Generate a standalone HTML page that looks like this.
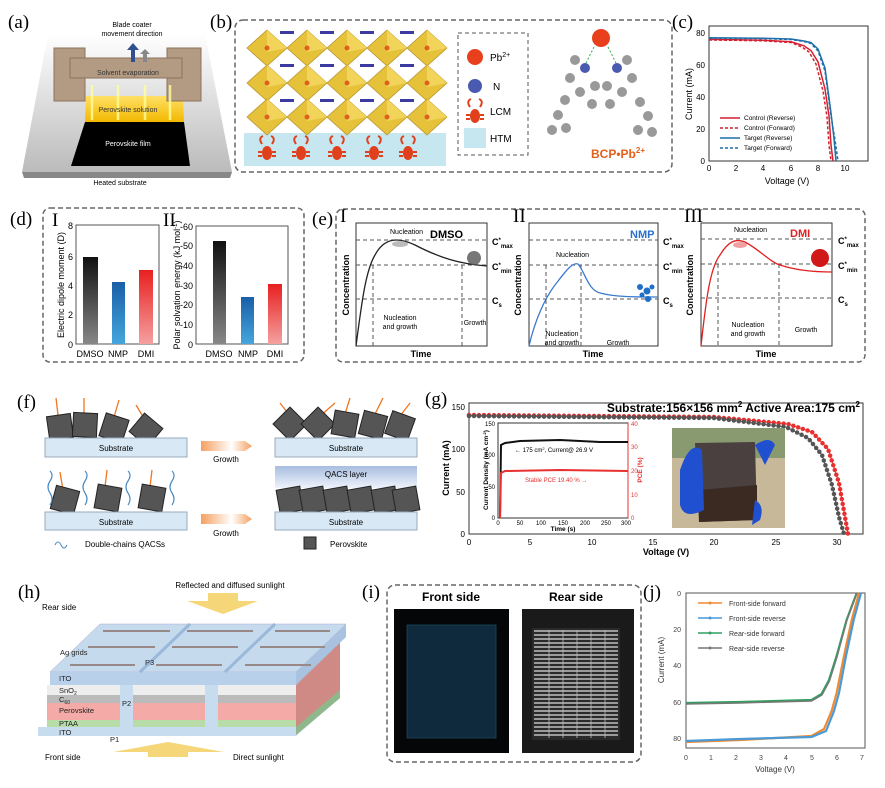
<!DOCTYPE html>
<html><head><meta charset="utf-8"><style>
html,body{margin:0;padding:0;background:#fff}
svg{display:block;font-family:"Liberation Sans",Arial,sans-serif}
.pl{font-family:"Liberation Serif",serif;font-size:19px}
.t{font-size:8px}
.d{stroke:#666;stroke-width:1.5;stroke-dasharray:5 3;fill:none}
.g{stroke:#555;stroke-width:1;stroke-dasharray:4 3;fill:none}
</style></head><body>
<svg width="885" height="788" viewBox="0 0 885 788" xmlns="http://www.w3.org/2000/svg">
<defs>
<linearGradient id="gk" x1="0" y1="0" x2="0" y2="1"><stop offset="0" stop-color="#111"/><stop offset="1" stop-color="#888"/></linearGradient>
<linearGradient id="gb" x1="0" y1="0" x2="0" y2="1"><stop offset="0" stop-color="#1a5fa8"/><stop offset="1" stop-color="#45a6dc"/></linearGradient>
<linearGradient id="gr" x1="0" y1="0" x2="0" y2="1"><stop offset="0" stop-color="#e82020"/><stop offset="1" stop-color="#f5a0a0"/></linearGradient>
<linearGradient id="gs" x1="0" y1="0" x2="0" y2="1"><stop offset="0" stop-color="#fff"/><stop offset="1" stop-color="#bbb"/></linearGradient>
<linearGradient id="gy" x1="0" y1="0" x2="0" y2="1"><stop offset="0" stop-color="#ffe066"/><stop offset="1" stop-color="#f2b800"/></linearGradient>
<linearGradient id="ga" x1="0" y1="0" x2="1" y2="0"><stop offset="0" stop-color="#f5a060"/><stop offset="0.6" stop-color="#fff"/><stop offset="1" stop-color="#f5a060"/></linearGradient>
<linearGradient id="gq" x1="0" y1="0" x2="0" y2="1"><stop offset="0" stop-color="#a8bde0"/><stop offset="1" stop-color="#eef3fb"/></linearGradient>
<g id="oct"><polygon points="0,-18 20,0 0,18 -20,0" fill="#e6c23a" stroke="#b8962a" stroke-width="0.8"/><polygon points="0,-18 20,0 0,4" fill="#f3d45a"/><circle r="2.5" fill="#e06020"/></g>
<g id="crab"><ellipse cx="0" cy="3" rx="5" ry="7" fill="#e0401c"/><path d="M-5,-6 q-4,-6 1,-8 M5,-6 q4,-6 -1,-8 M-5,2 h-4 M5,2 h4 M-5,6 h-4 M5,6 h4" stroke="#e0401c" stroke-width="2" fill="none"/></g>
<g id="sq"><rect x="-12" y="-12" width="24" height="24" fill="#555" stroke="#222"/></g>
</defs>

<!-- (a) -->
<text x="8" y="28" class="pl">(a)</text>
<polygon points="48,34 205,34 232,172 22,172" fill="url(#gs)"/>
<polygon points="22,172 232,172 230,178 24,178" fill="#888"/>
<text x="132" y="27" text-anchor="middle" font-size="7">Blade coater</text>
<text x="132" y="36" text-anchor="middle" font-size="7">movement direction</text>
<polygon points="85,122 184,122 190,166 71,166" fill="#000"/>
<polygon points="86,96 183,96 184,122 85,122" fill="url(#gy)"/>
<rect x="54" y="48" width="31" height="53" fill="#b39a82" stroke="#8c735c"/>
<rect x="167" y="48" width="34" height="53" fill="#b39a82" stroke="#8c735c"/>
<rect x="70" y="58" width="112" height="20" fill="#b39a82" stroke="#8c735c"/>
<path d="M131,62 v-12 h-4 l6,-7 l6,7 h-4 v12z" fill="#2f4f8f"/>
<path d="M143,62 v-8 h-3 l5,-5 l5,5 h-3 v8z" fill="#888"/>
<g stroke="#ffff99" stroke-width="2.5" opacity="0.8"><line x1="92" y1="120" x2="92" y2="85"/><line x1="118" y1="120" x2="118" y2="85"/><line x1="145" y1="120" x2="145" y2="85"/><line x1="170" y1="120" x2="170" y2="85"/></g>
<text x="128" y="75" text-anchor="middle" font-size="7" fill="#333">Solvent evaporation</text>
<text x="128" y="112" text-anchor="middle" font-size="7" fill="#333">Perovskite solution</text>
<text x="128" y="146" text-anchor="middle" font-size="7" fill="#fff">Perovskite film</text>
<text x="120" y="185" text-anchor="middle" font-size="7">Heated substrate</text>

<!-- (b) -->
<text x="210" y="28" class="pl">(b)</text>
<rect x="235" y="20" width="437" height="152" rx="8" class="d"/>
<rect x="244" y="133" width="202" height="33" fill="#c6e6f0"/>
<g>
<use href="#oct" x="267" y="48"/><use href="#oct" x="307" y="48"/><use href="#oct" x="347" y="48"/><use href="#oct" x="387" y="48"/><use href="#oct" x="427" y="48"/>
<use href="#oct" x="267" y="83"/><use href="#oct" x="307" y="83"/><use href="#oct" x="347" y="83"/><use href="#oct" x="387" y="83"/><use href="#oct" x="427" y="83"/>
<use href="#oct" x="267" y="117"/><use href="#oct" x="307" y="117"/><use href="#oct" x="347" y="117"/><use href="#oct" x="387" y="117"/><use href="#oct" x="427" y="117"/>
</g>
<g fill="#3a3aa0"><rect x="280" y="64" width="14" height="3"/><rect x="320" y="64" width="14" height="3"/><rect x="360" y="64" width="14" height="3"/><rect x="400" y="64" width="14" height="3"/>
<rect x="280" y="99" width="14" height="3"/><rect x="320" y="99" width="14" height="3"/><rect x="360" y="99" width="14" height="3"/><rect x="400" y="99" width="14" height="3"/>
<rect x="280" y="31" width="14" height="3"/><rect x="320" y="31" width="14" height="3"/><rect x="360" y="31" width="14" height="3"/><rect x="400" y="31" width="14" height="3"/></g>
<use href="#crab" x="267" y="150"/><use href="#crab" x="301" y="150"/><use href="#crab" x="337" y="150"/><use href="#crab" x="374" y="150"/><use href="#crab" x="408" y="150"/>
<rect x="458" y="33" width="70" height="122" class="g"/>
<circle cx="475" cy="57" r="8" fill="#e8401c"/><text x="490" y="61" font-size="10">Pb<tspan font-size="7" dy="-4">2+</tspan></text>
<circle cx="475" cy="86" r="7" fill="#4a5ab0"/><text x="493" y="90" font-size="10">N</text>
<use href="#crab" x="475" y="113"/><text x="490" y="115" font-size="10">LCM</text>
<rect x="464" y="128" width="22" height="20" fill="#c6e6f0"/><text x="490" y="142" font-size="10">HTM</text>
<circle cx="601" cy="38" r="9" fill="#e8401c"/>
<path d="M594,47 l-8,16 M608,47 l8,16" stroke="#2db04a" stroke-dasharray="2 2"/>
<g fill="#999"><circle cx="585" cy="68" r="5" fill="#4a5ab0"/><circle cx="617" cy="68" r="5" fill="#4a5ab0"/><circle cx="575" cy="60" r="5"/><circle cx="627" cy="60" r="5"/><circle cx="570" cy="78" r="5"/><circle cx="632" cy="78" r="5"/><circle cx="580" cy="92" r="5"/><circle cx="622" cy="92" r="5"/><circle cx="595" cy="86" r="5"/><circle cx="607" cy="86" r="5"/><circle cx="592" cy="104" r="5"/><circle cx="610" cy="104" r="5"/><circle cx="565" cy="100" r="5"/><circle cx="558" cy="115" r="5"/><circle cx="566" cy="128" r="5"/><circle cx="640" cy="102" r="5"/><circle cx="648" cy="116" r="5"/><circle cx="638" cy="130" r="5"/><circle cx="552" cy="130" r="5"/><circle cx="652" cy="132" r="5"/></g>
<text x="618" y="158" text-anchor="middle" font-size="12" font-weight="bold" fill="#e0601c">BCP•Pb<tspan font-size="8" dy="-5">2+</tspan></text>

<!-- (c) -->
<text x="672" y="28" class="pl">(c)</text>
<rect x="709" y="26" width="159" height="135" fill="none" stroke="#333"/>
<g class="t" text-anchor="end"><text x="705" y="164">0</text><text x="705" y="132">20</text><text x="705" y="100">40</text><text x="705" y="68">60</text><text x="705" y="36">80</text></g>
<g class="t" text-anchor="middle"><text x="709" y="171">0</text><text x="736" y="171">2</text><text x="763" y="171">4</text><text x="791" y="171">6</text><text x="818" y="171">8</text><text x="845" y="171">10</text></g>
<text x="787" y="184" text-anchor="middle" font-size="9">Voltage (V)</text>
<text transform="translate(692,94) rotate(-90)" text-anchor="middle" font-size="9">Current (mA)</text>
<path d="M709,39.4 L736,39.7 763,40.2 791,41.8 804,45.8 811,50.6 818,61.8 825,89 829,116 831,145 833,161" fill="none" stroke="#d42030" stroke-width="1.5"/>
<path d="M709,40 L736,40.3 763,40.8 791,42.5 802,47 809,52 816,64 823,91 827,117 829,145 831,161" fill="none" stroke="#d42030" stroke-width="1.5" stroke-dasharray="3 2"/>
<path d="M709,37.8 L763,38.2 791,39 804,41 811,42.6 818,49 825,68 831,113 834,138.6 836,161" fill="none" stroke="#1f6fa8" stroke-width="1.5"/>
<path d="M709,38.2 L763,38.6 791,39.5 804,41.5 811,43.5 818,51 825,71 831,116 835,140 838,161" fill="none" stroke="#1f6fa8" stroke-width="1.5" stroke-dasharray="3 2"/>
<g font-size="6.5"><line x1="720" y1="118" x2="740" y2="118" stroke="#d42030" stroke-width="1.5"/><text x="744" y="120">Control (Reverse)</text>
<line x1="720" y1="128" x2="740" y2="128" stroke="#d42030" stroke-width="1.5" stroke-dasharray="3 2"/><text x="744" y="130">Control (Forward)</text>
<line x1="720" y1="138" x2="740" y2="138" stroke="#1f6fa8" stroke-width="1.5"/><text x="744" y="140">Target (Reverse)</text>
<line x1="720" y1="148" x2="740" y2="148" stroke="#1f6fa8" stroke-width="1.5" stroke-dasharray="3 2"/><text x="744" y="150">Target (Forward)</text></g>

<!-- (d) -->
<text x="10" y="225" class="pl">(d)</text>
<rect x="43" y="208" width="261" height="154" rx="7" class="d"/>
<text x="52" y="226" class="pl" font-size="14">I</text>
<text x="163" y="226" class="pl" font-size="14">II</text>
<rect x="76" y="225" width="83" height="119" fill="none" stroke="#555"/>
<rect x="83" y="257" width="15" height="87" fill="url(#gk)"/>
<rect x="112" y="282" width="13" height="62" fill="url(#gb)"/>
<rect x="139" y="270" width="14" height="74" fill="url(#gr)"/>
<g font-size="9" text-anchor="end"><text x="73" y="348">0</text><text x="73" y="318">2</text><text x="73" y="289">4</text><text x="73" y="260">6</text><text x="73" y="229">8</text></g>
<text transform="translate(64,285) rotate(-90)" text-anchor="middle" font-size="9">Electric dipole moment (D)</text>
<g font-size="9" text-anchor="middle"><text x="90" y="357">DMSO</text><text x="118" y="357">NMP</text><text x="146" y="357">DMI</text></g>
<rect x="196" y="226" width="92" height="118" fill="none" stroke="#555"/>
<rect x="213" y="241" width="13" height="103" fill="url(#gk)"/>
<rect x="241" y="297" width="13" height="47" fill="url(#gb)"/>
<rect x="268" y="284" width="14" height="60" fill="url(#gr)"/>
<g font-size="9" text-anchor="end"><text x="193" y="348">0</text><text x="193" y="328">-10</text><text x="193" y="308">-20</text><text x="193" y="289">-30</text><text x="193" y="269">-40</text><text x="193" y="249">-50</text><text x="193" y="230">-60</text></g>
<text transform="translate(180,285) rotate(-90)" text-anchor="middle" font-size="9">Polar solvation energy (kJ mol<tspan font-size="6" dy="-3">-1</tspan><tspan dy="3">)</tspan></text>
<g font-size="9" text-anchor="middle"><text x="219" y="357">DMSO</text><text x="248" y="357">NMP</text><text x="275" y="357">DMI</text></g>

<!-- (e) -->
<text x="312" y="225" class="pl">(e)</text>
<rect x="336" y="209" width="529" height="153" rx="7" class="d"/>
<g class="pl" font-size="12"><text x="340" y="222">I</text><text x="513" y="222">II</text><text x="684" y="222">III</text></g>
<rect x="356" y="223" width="131" height="123" fill="none" stroke="#333"/>
<g class="g"><line x1="356" y1="240" x2="487" y2="240"/><line x1="356" y1="265" x2="487" y2="265"/><line x1="356" y1="299" x2="487" y2="299"/><line x1="373" y1="265" x2="373" y2="346"/><line x1="462" y1="265" x2="462" y2="346"/></g>
<path d="M356,346 C362,300 366,270 375,255 C385,236 400,238 415,245 C440,258 460,264 487,266" fill="none" stroke="#222" stroke-width="1.3"/>
<ellipse cx="400" cy="244" rx="8" ry="3" fill="#bbb"/>
<circle cx="474" cy="258" r="7" fill="#555" opacity="0.8"/>
<text x="390" y="234" font-size="7">Nucleation</text>
<text x="430" y="238" font-size="11" font-weight="bold">DMSO</text>
<text x="400" y="320" font-size="7" text-anchor="middle">Nucleation</text><text x="400" y="329" font-size="7" text-anchor="middle">and growth</text>
<text x="475" y="325" font-size="7" text-anchor="middle">Growth</text>
<g font-size="9" font-weight="bold"><text x="492" y="245">C<tspan dy="-3" font-size="6">*</tspan><tspan dy="6" font-size="6">max</tspan></text><text x="492" y="270">C<tspan dy="-3" font-size="6">*</tspan><tspan dy="6" font-size="6">min</tspan></text><text x="492" y="304">C<tspan dy="3" font-size="6">s</tspan></text></g>
<text transform="translate(349,285) rotate(-90)" text-anchor="middle" font-size="9" font-weight="bold">Concentration</text>
<text x="421" y="357" text-anchor="middle" font-size="9" font-weight="bold">Time</text>
<rect x="529" y="223" width="129" height="123" fill="none" stroke="#333"/>
<g class="g"><line x1="529" y1="240" x2="658" y2="240"/><line x1="529" y1="265" x2="658" y2="265"/><line x1="529" y1="299" x2="658" y2="299"/><line x1="546" y1="265" x2="546" y2="346"/><line x1="581" y1="265" x2="581" y2="346"/></g>
<path d="M529,346 C535,320 545,298 555,285 C565,272 572,262 578,264 C585,272 588,290 600,293 C615,297 635,297 658,297" fill="none" stroke="#3c7ad0" stroke-width="1.3"/>
<g fill="#1f6fc8"><circle cx="640" cy="287" r="3"/><circle cx="647" cy="291" r="3.5"/><circle cx="642" cy="295" r="2.5"/><circle cx="652" cy="287" r="2.5"/><circle cx="648" cy="299" r="3"/></g>
<text x="556" y="257" font-size="7">Nucleation</text>
<text x="630" y="238" font-size="11" font-weight="bold" fill="#2a6fd0">NMP</text>
<text x="562" y="336" font-size="7" text-anchor="middle">Nucleation</text><text x="562" y="345" font-size="7" text-anchor="middle">and growth</text>
<text x="618" y="345" font-size="7" text-anchor="middle">Growth</text>
<g font-size="9" font-weight="bold"><text x="663" y="245">C<tspan dy="-3" font-size="6">*</tspan><tspan dy="6" font-size="6">max</tspan></text><text x="663" y="270">C<tspan dy="-3" font-size="6">*</tspan><tspan dy="6" font-size="6">min</tspan></text><text x="663" y="304">C<tspan dy="3" font-size="6">s</tspan></text></g>
<text transform="translate(521,285) rotate(-90)" text-anchor="middle" font-size="9" font-weight="bold">Concentration</text>
<text x="593" y="357" text-anchor="middle" font-size="9" font-weight="bold">Time</text>
<rect x="701" y="223" width="131" height="123" fill="none" stroke="#333"/>
<g class="g"><line x1="701" y1="239" x2="832" y2="239"/><line x1="701" y1="264" x2="832" y2="264"/><line x1="701" y1="298" x2="832" y2="298"/><line x1="718" y1="264" x2="718" y2="346"/><line x1="779" y1="264" x2="779" y2="346"/></g>
<path d="M701,346 C706,300 710,268 720,255 C728,242 735,238 745,242 C760,250 770,262 780,265 C795,270 815,272 832,272" fill="none" stroke="#e02020" stroke-width="1.3"/>
<ellipse cx="740" cy="245" rx="7" ry="3" fill="#f0a0a0"/>
<circle cx="820" cy="258" r="9" fill="#d01818"/>
<text x="734" y="232" font-size="7">Nucleation</text>
<text x="790" y="237" font-size="11" font-weight="bold" fill="#e02020">DMI</text>
<text x="748" y="327" font-size="7" text-anchor="middle">Nucleation</text><text x="748" y="336" font-size="7" text-anchor="middle">and growth</text>
<text x="806" y="332" font-size="7" text-anchor="middle">Growth</text>
<g font-size="9" font-weight="bold"><text x="838" y="244">C<tspan dy="-3" font-size="6">*</tspan><tspan dy="6" font-size="6">max</tspan></text><text x="838" y="269">C<tspan dy="-3" font-size="6">*</tspan><tspan dy="6" font-size="6">min</tspan></text><text x="838" y="303">C<tspan dy="3" font-size="6">s</tspan></text></g>
<text transform="translate(693,285) rotate(-90)" text-anchor="middle" font-size="9" font-weight="bold">Concentration</text>
<text x="766" y="357" text-anchor="middle" font-size="9" font-weight="bold">Time</text>

<!-- (f) -->
<text x="17" y="408" class="pl">(f)</text>
<g stroke="#ee7722" stroke-width="1.3"><line x1="58" y1="415" x2="56" y2="398"/><line x1="84" y1="413" x2="84" y2="398"/><line x1="114" y1="417" x2="119" y2="400"/><line x1="145" y1="420" x2="136" y2="405"/>
<line x1="290" y1="416" x2="280" y2="403"/><line x1="320" y1="416" x2="335" y2="403"/><line x1="345" y1="414" x2="350" y2="398"/><line x1="375" y1="414" x2="383" y2="398"/><line x1="400" y1="416" x2="410" y2="403"/>
<line x1="63" y1="490" x2="60" y2="472"/><line x1="105" y1="487" x2="107" y2="470"/><line x1="150" y1="487" x2="152" y2="470"/>
<line x1="292" y1="498" x2="290" y2="480"/><line x1="313" y1="498" x2="313" y2="480"/><line x1="337" y1="498" x2="337" y2="480"/><line x1="361" y1="498" x2="361" y2="480"/><line x1="385" y1="498" x2="385" y2="480"/><line x1="408" y1="498" x2="408" y2="480"/></g>
<g transform="translate(60,427) rotate(-8)"><use href="#sq"/></g><g transform="translate(85,425) rotate(3)"><use href="#sq"/></g>
<g transform="translate(114,428) rotate(18)"><use href="#sq"/></g><g transform="translate(146,430) rotate(40)"><use href="#sq"/></g>
<g transform="translate(290,424) rotate(45)"><use href="#sq"/></g><g transform="translate(318,424) rotate(45)"><use href="#sq"/></g><g transform="translate(345,424) rotate(10)"><use href="#sq"/></g><g transform="translate(373,425) rotate(15)"><use href="#sq"/></g><g transform="translate(400,426) rotate(20)"><use href="#sq"/></g>
<g transform="translate(65,500) rotate(15)"><use href="#sq"/></g><g transform="translate(108,498) rotate(10)"><use href="#sq"/></g><g transform="translate(152,498) rotate(10)"><use href="#sq"/></g>
<g stroke="#4a8ac0" stroke-width="1.2" fill="none"><path d="M50,505 q4,-6 0,-12 q-4,-6 0,-12 q4,-6 0,-10"/><path d="M85,505 q4,-6 0,-12 q-4,-6 0,-12 q4,-6 0,-10"/><path d="M128,505 q4,-6 0,-12 q-4,-6 0,-12 q4,-6 0,-10"/><path d="M172,505 q4,-6 0,-12 q-4,-6 0,-12 q4,-6 0,-10"/></g>
<rect x="45" y="438" width="142" height="19" fill="#d8e8f4" stroke="#9ab"/><text x="116" y="451" text-anchor="middle" font-size="8">Substrate</text>
<rect x="45" y="512" width="142" height="18" fill="#d8e8f4" stroke="#9ab"/><text x="116" y="525" text-anchor="middle" font-size="8">Substrate</text>
<rect x="275" y="466" width="142" height="22" fill="url(#gq)"/><text x="346" y="477" text-anchor="middle" font-size="8">QACS layer</text>
<g transform="translate(290,500) rotate(-10)"><use href="#sq"/></g><g transform="translate(313,500) rotate(-10)"><use href="#sq"/></g><g transform="translate(337,500) rotate(-10)"><use href="#sq"/></g><g transform="translate(361,500) rotate(-10)"><use href="#sq"/></g><g transform="translate(385,500) rotate(-10)"><use href="#sq"/></g><g transform="translate(406,500) rotate(-10)"><use href="#sq"/></g>
<rect x="275" y="438" width="142" height="19" fill="#d8e8f4" stroke="#9ab"/><text x="346" y="451" text-anchor="middle" font-size="8">Substrate</text>
<rect x="275" y="512" width="142" height="18" fill="#d8e8f4" stroke="#9ab"/><text x="346" y="525" text-anchor="middle" font-size="8">Substrate</text>
<polygon points="201,441 245,441 252,446 245,451 201,451" fill="url(#ga)"/><text x="226" y="462" text-anchor="middle" font-size="8">Growth</text>
<polygon points="201,514 245,514 252,519 245,524 201,524" fill="url(#ga)"/><text x="226" y="536" text-anchor="middle" font-size="8">Growth</text>
<path d="M55,545 q3,-6 6,0 q3,6 6,0" stroke="#4a8ac0" fill="none"/><text x="85" y="547" font-size="8">Double-chains QACSs</text>
<rect x="304" y="537" width="12" height="12" fill="#555" stroke="#222"/><text x="330" y="547" font-size="8">Perovskite</text>

<!-- (g) -->
<text x="425" y="405" class="pl">(g)</text>
<rect x="469" y="403" width="394" height="131" fill="none" stroke="#333"/>
<g class="t" text-anchor="end"><text x="465" y="537">0</text><text x="465" y="495">50</text><text x="465" y="452">100</text><text x="465" y="410">150</text></g>
<g class="t" text-anchor="middle"><text x="469" y="545">0</text><text x="530" y="545">5</text><text x="592" y="545">10</text><text x="653" y="545">15</text><text x="714" y="545">20</text><text x="776" y="545">25</text><text x="837" y="545">30</text></g>
<text x="666" y="555" text-anchor="middle" font-size="9" font-weight="bold">Voltage (V)</text>
<text transform="translate(449,468) rotate(-90)" text-anchor="middle" font-size="9" font-weight="bold">Current (mA)</text>
<text x="860" y="412" text-anchor="end" font-size="12" font-weight="bold">Substrate:156×156 mm<tspan font-size="8" dy="-5">2</tspan><tspan dy="5"> Active Area:175 cm</tspan><tspan font-size="8" dy="-5">2</tspan></text>
<path d="M469,415 L714,417 788,424 812,432 828,449 839,483 845,517 848,534" fill="none" stroke="#e83030" stroke-width="4.5" stroke-linecap="round" stroke-dasharray="0 5"/>
<path d="M469,415 L714,417 788,424 812,432 828,449 839,483 845,517 848,534" fill="none" stroke="#e83030"/>
<path d="M469,416 L714,418 786,427 808,438 822,455 832,485 839,517 844,534" fill="none" stroke="#555" stroke-width="4.5" stroke-linecap="round" stroke-dasharray="0 5"/>
<path d="M469,416 L714,418 786,427 808,438 822,455 832,485 839,517 844,534" fill="none" stroke="#555"/>
<rect x="498" y="423" width="130" height="95" fill="#fff" stroke="#333"/>
<line x1="628" y1="423" x2="628" y2="518" stroke="#e83030"/>
<path d="M500,518 L501,445 505,443 520,441 560,440 600,442 628,442" fill="none" stroke="#111" stroke-width="2"/>
<path d="M500,518 L501,473 505,471 560,470 628,471" fill="none" stroke="#e83030" stroke-width="2"/>
<text x="515" y="452" font-size="6">← 175 cm<tspan font-size="4" dy="-2">2</tspan><tspan dy="2">, Current@ 26.9 V</tspan></text>
<text x="525" y="482" font-size="6" fill="#e83030">Stable PCE 19.40 %  →</text>
<g font-size="6" text-anchor="end"><text x="495" y="520">0</text><text x="495" y="489">50</text><text x="495" y="457">100</text><text x="495" y="426">150</text></g>
<g font-size="6" fill="#e83030"><text x="631" y="520">0</text><text x="631" y="497">10</text><text x="631" y="473">20</text><text x="631" y="449">30</text><text x="631" y="426">40</text></g>
<g font-size="6" text-anchor="middle"><text x="498" y="525">0</text><text x="520" y="525">50</text><text x="541" y="525">100</text><text x="563" y="525">150</text><text x="585" y="525">200</text><text x="606" y="525">250</text><text x="626" y="525">300</text></g>
<text x="563" y="531" text-anchor="middle" font-size="6.5" font-weight="bold">Time (s)</text>
<text transform="translate(488,470) rotate(-90)" text-anchor="middle" font-size="6.5" font-weight="bold">Current Density (mA cm<tspan font-size="4" dy="-2">-2</tspan><tspan dy="2">)</tspan></text>
<text transform="translate(642,470) rotate(-90)" text-anchor="middle" font-size="6.5" font-weight="bold" fill="#e83030">PCE (%)</text>
<rect x="672" y="428" width="113" height="100" fill="#c8b89a"/>
<rect x="672" y="428" width="113" height="30" fill="#8a9a70"/>
<polygon points="695,443 755,442 757,520 699,522" fill="#4a4040"/>
<polygon points="699,490 757,485 757,520 699,522" fill="#3a2a22"/>
<path d="M680,470 q10,-30 22,-20 l2,60 q-20,10 -24,-5z" fill="#2050d0"/>
<path d="M755,445 q15,-10 20,0 l-10,20z M755,500 q10,5 5,20 l-8,5z" fill="#2050d0"/>

<!-- (h) -->
<text x="18" y="598" class="pl">(h)</text>
<text x="230" y="588" text-anchor="middle" font-size="8">Reflected and diffused sunlight</text>
<polygon points="208,593 238,593 238,601 258,601 223,614 187,601 208,601" fill="#f5d77a"/>
<text x="42" y="610" font-size="8">Rear side</text>
<polygon points="38,728 296,728 340,690 340,698 296,736 38,736" fill="#c8dcef"/>
<polygon points="296,685 340,640 340,695 296,735" fill="#cf8a86"/>
<polygon points="296,727 340,690 340,698 296,735" fill="#8fb88a"/>
<rect x="38" y="727" width="258" height="9" fill="#c8dcef"/>
<rect x="47" y="685" width="249" height="10" fill="#eee"/>
<rect x="47" y="695" width="249" height="8" fill="#bbb"/>
<rect x="47" y="703" width="249" height="17" fill="#f4aaa6"/>
<rect x="47" y="720" width="249" height="7" fill="#b8dca8"/>
<rect x="120" y="685" width="13" height="42" fill="#c8dcef"/>
<rect x="205" y="685" width="13" height="42" fill="#c8dcef"/>
<polygon points="50,672 100,624 346,624 296,672" fill="#c6daee" stroke="#aac" stroke-width="0.5"/>
<rect x="50" y="672" width="246" height="13" fill="#b8d0ea"/>
<polygon points="296,672 346,624 346,637 296,685" fill="#a8c2e0"/>
<line x1="140" y1="672" x2="190" y2="624" stroke="#9ab8d8" stroke-width="3"/><line x1="225" y1="672" x2="275" y2="624" stroke="#9ab8d8" stroke-width="3"/>
<g stroke="#998888" stroke-width="2"><line x1="103" y1="631" x2="170" y2="631"/><line x1="187" y1="631" x2="253" y2="631"/><line x1="275" y1="631" x2="330" y2="631"/>
<line x1="88" y1="647" x2="155" y2="647"/><line x1="172" y1="647" x2="238" y2="647"/><line x1="260" y1="647" x2="325" y2="647"/>
<line x1="70" y1="665" x2="135" y2="665"/><line x1="156" y1="665" x2="222" y2="665"/><line x1="245" y1="665" x2="311" y2="665"/></g>
<g font-size="7.5" fill="#222"><text x="60" y="655">Ag grids</text><text x="145" y="665">P3</text><text x="59" y="681">ITO</text><text x="59" y="693">SnO<tspan font-size="5" dy="2">2</tspan></text><text x="59" y="702">C<tspan font-size="5" dy="2">60</tspan></text><text x="59" y="713">Perovskite</text><text x="59" y="726">PTAA</text><text x="59" y="735">ITO</text><text x="122" y="706">P2</text><text x="110" y="742">P1</text></g>
<polygon points="168,742 224,752 188,752 188,757 148,757 148,752 113,752" fill="#f5d77a"/>
<text x="45" y="760" font-size="8">Front side</text>
<text x="233" y="760" font-size="8">Direct sunlight</text>

<!-- (i) -->
<text x="362" y="598" class="pl">(i)</text>
<rect x="387" y="585" width="254" height="177" rx="8" class="d"/>
<text x="451" y="601" text-anchor="middle" font-size="12" font-weight="bold">Front side</text>
<text x="576" y="601" text-anchor="middle" font-size="12" font-weight="bold">Rear side</text>
<rect x="394" y="609" width="115" height="144" fill="#050608"/>
<rect x="407" y="625" width="89" height="113" fill="#0e2a3c" stroke="#1d4a60" stroke-width="0.8"/>
<rect x="522" y="609" width="112" height="144" fill="#1a1a1a"/>
<rect x="532" y="628" width="88" height="112" fill="#2a2a2a"/>
<g stroke="#ddd" stroke-width="1.2">
<line x1="534" y1="631" x2="618" y2="631"/><line x1="534" y1="635" x2="618" y2="635"/><line x1="534" y1="639" x2="618" y2="639"/><line x1="534" y1="643" x2="618" y2="643"/><line x1="534" y1="647" x2="618" y2="647"/><line x1="534" y1="651" x2="618" y2="651"/><line x1="534" y1="655" x2="618" y2="655"/><line x1="534" y1="659" x2="618" y2="659"/><line x1="534" y1="663" x2="618" y2="663"/><line x1="534" y1="667" x2="618" y2="667"/><line x1="534" y1="671" x2="618" y2="671"/><line x1="534" y1="675" x2="618" y2="675"/><line x1="534" y1="679" x2="618" y2="679"/><line x1="534" y1="683" x2="618" y2="683"/><line x1="534" y1="687" x2="618" y2="687"/><line x1="534" y1="691" x2="618" y2="691"/><line x1="534" y1="695" x2="618" y2="695"/><line x1="534" y1="699" x2="618" y2="699"/><line x1="534" y1="703" x2="618" y2="703"/><line x1="534" y1="707" x2="618" y2="707"/><line x1="534" y1="711" x2="618" y2="711"/><line x1="534" y1="715" x2="618" y2="715"/><line x1="534" y1="719" x2="618" y2="719"/><line x1="534" y1="723" x2="618" y2="723"/><line x1="534" y1="727" x2="618" y2="727"/><line x1="534" y1="731" x2="618" y2="731"/><line x1="534" y1="735" x2="618" y2="735"/></g>
<g stroke="#bbb" stroke-width="0.8"><line x1="549" y1="630" x2="549" y2="738"/><line x1="563" y1="630" x2="563" y2="738"/><line x1="577" y1="630" x2="577" y2="738"/><line x1="591" y1="630" x2="591" y2="738"/><line x1="605" y1="630" x2="605" y2="738"/></g>

<!-- (j) -->
<text x="643" y="598" class="pl">(j)</text>
<rect x="686" y="593" width="179" height="155" fill="none" stroke="#555"/>
<g font-size="7" text-anchor="end" fill="#444"><text x="681" y="596">0</text><text x="681" y="632">20</text><text x="681" y="668">40</text><text x="681" y="705">60</text><text x="681" y="741">80</text></g>
<g font-size="7" text-anchor="middle" fill="#444"><text x="686" y="760">0</text><text x="711" y="760">1</text><text x="736" y="760">2</text><text x="761" y="760">3</text><text x="786" y="760">4</text><text x="812" y="760">5</text><text x="837" y="760">6</text><text x="862" y="760">7</text></g>
<text x="775" y="772" text-anchor="middle" font-size="8" fill="#333">Voltage (V)</text>
<text transform="translate(664,660) rotate(-90)" text-anchor="middle" font-size="8" fill="#333">Current (mA)</text>
<path d="M686,742 L740,740 811.5,736 824,729 831.6,711 836.6,693 844,656 851.7,620 859,593" fill="none" stroke="#f08a30" stroke-width="2.2"/>
<path d="M686,741 L740,739 811.5,737 826,731 834,711 839,693 846,656 853.7,620 861,593" fill="none" stroke="#4a9ad8" stroke-width="2.2"/>
<path d="M686,703 L740,702 811.5,700 821.5,694 829,680 836.6,656 846.6,620 856.7,593" fill="none" stroke="#30a060" stroke-width="2.2"/>
<path d="M686,704 L740,703 811.5,701 822,695 829.5,681 837,657 847,620 857,593" fill="none" stroke="#777" stroke-width="1.4"/>
<g font-size="7" fill="#333">
<line x1="698" y1="603" x2="722" y2="603" stroke="#f08a30" stroke-width="1.5"/><circle cx="710" cy="603" r="1.5" fill="#f08a30"/><text x="729" y="606">Front-side forward</text>
<line x1="698" y1="618" x2="722" y2="618" stroke="#4a9ad8" stroke-width="1.5"/><circle cx="710" cy="618" r="1.5" fill="#4a9ad8"/><text x="729" y="621">Front-side reverse</text>
<line x1="698" y1="633" x2="722" y2="633" stroke="#30a060" stroke-width="1.5"/><circle cx="710" cy="633" r="1.5" fill="#30a060"/><text x="729" y="636">Rear-side forward</text>
<line x1="698" y1="648" x2="722" y2="648" stroke="#777" stroke-width="1.5"/><circle cx="710" cy="648" r="1.5" fill="#777"/><text x="729" y="651">Rear-side reverse</text></g>
</svg>
</body></html>
